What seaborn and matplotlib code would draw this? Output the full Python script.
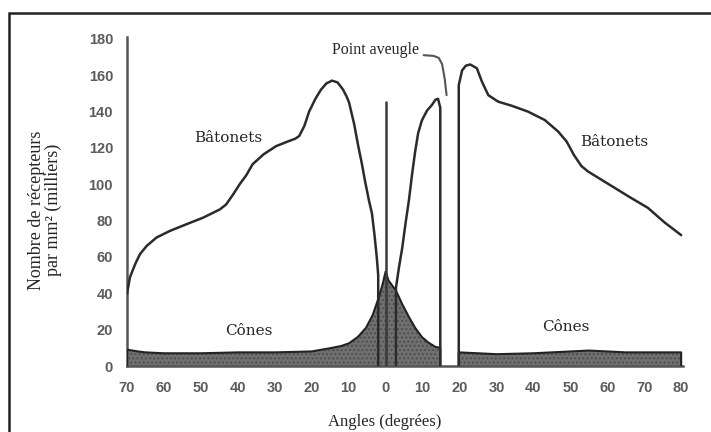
import numpy as np
import pandas as pd
import matplotlib
matplotlib.use("Agg")
import matplotlib.pyplot as plt
import matplotlib.patches as mpatches
import seaborn as sns

# Rods (bâtonets), temporal side negative, nasal side positive (degrees)
rods_left_x = [-70, -69.2, -67.8, -66.5, -64.7, -62, -58.4, -53.9, -49.4, -44.9, -43.2,
               -41.3, -39.5, -37.7, -36, -33, -29.6, -26.5, -24.5, -23.4, -22, -20.7,
               -19, -17.5, -16, -14.5, -13, -11.5, -10.5, -9.9, -8.5, -7.5, -6.4, -5.5,
               -4.5, -3.7, -3, -2.4, -2, -2]
rods_left_y = [39.7, 48.8, 56, 61.5, 66, 70.7, 74.3, 78, 81.6, 86.1, 88.8,
               94.3, 100, 105, 111, 116.5, 121, 123.5, 125, 126.5, 132, 140,
               147, 152, 155.5, 157, 156, 152, 148, 145, 133, 122, 111, 101,
               91, 84, 72, 60, 50, 0]

rods_mid_x = [2.8, 2.8, 3.6, 4.5, 5.5, 6.3, 7.2, 8, 8.8, 9.8, 11.2, 12.5, 13.5, 14.2,
              14.8, 14.8]
rods_mid_y = [0, 43, 54, 65, 80, 91, 106, 118, 128, 135, 140.5, 143.5, 146.5, 147,
              142, 0]

rods_right_x = [19.8, 19.8, 20.7, 21.7, 22.9, 24.7, 26.1, 27.8, 30.5, 34.1, 38.6, 43.1,
                46.7, 49, 51, 53, 54.8, 58, 62, 66, 71, 75.5, 80]
rods_right_y = [0, 154.5, 162.6, 165.2, 165.9, 163.8, 156.3, 149, 145.4, 143.2, 139.9,
                135.3, 129, 123.5, 116, 110, 107, 103, 98, 93, 87, 79, 72]

# Cones
cones_left_x = [-70, -67, -65, -60, -50, -40, -30, -20, -15, -12, -9.9, -7.5, -5.3,
                -3.5, -1.8, -0.8, 0, 0.8, 2.8, 4.5, 6.3, 8, 9.8, 11.5, 13.5, 14.8]
cones_left_y = [9, 8, 7.5, 7, 7, 7.5, 7.5, 8, 9.8, 11, 12.5, 16, 21,
                28, 38, 45, 52, 47, 41.5, 34, 27, 21, 16, 13, 10.5, 10]

cones_right_x = [19.8, 25, 30, 40, 50, 55, 60, 65, 70, 80]
cones_right_y = [7.5, 7, 6.5, 7, 8, 8.5, 8, 7.5, 7.5, 7.5]

fovea_x = 0
fovea_top = 145

pointer_x = [10.3, 13.0, 14.4, 15.3, 16.0, 16.5]
pointer_y = [171, 170.6, 169.5, 166, 158, 149]

x_ticks = list(range(-70, 81, 10))
y_ticks = list(range(0, 181, 20))

sns.set_style("white")

fig = plt.figure(figsize=(7.11, 4.32), dpi=100)
ax = fig.add_axes([127 / 711, 66 / 432, (683 - 127) / 711, (366 - 37) / 432])

shade = "#707070"
for cx, cy in [(cones_left_x, cones_left_y), (cones_right_x, cones_right_y)]:
    ax.fill_between(cx, 0, cy, facecolor=shade, edgecolor="#4f4f4f",
                    hatch="....", linewidth=0, zorder=1)
    xs = [cx[0]] + cx + [cx[-1]]
    ys = [0] + cy + [0]
    df = pd.DataFrame({"x": xs, "y": ys})
    sns.lineplot(data=df, x="x", y="y", ax=ax, sort=False, estimator=None,
                 color="#222222", linewidth=1.5, zorder=3)

for rx, ry in [(rods_left_x, rods_left_y), (rods_mid_x, rods_mid_y),
               (rods_right_x, rods_right_y)]:
    df = pd.DataFrame({"x": rx, "y": ry})
    sns.lineplot(data=df, x="x", y="y", ax=ax, sort=False, estimator=None,
                 color="#2b2b2b", linewidth=1.8, zorder=4)
for line in ax.get_lines():
    line.set_solid_joinstyle("round")
    line.set_solid_capstyle("round")

ax.plot([fovea_x, fovea_x], [0, fovea_top], color="#3a3a3a", lw=1.8, zorder=4)
ax.plot(pointer_x, pointer_y, color="#555555", lw=1.5, zorder=4,
        solid_joinstyle="round")

ax.set_xlim(-70, 80.5)
ax.set_ylim(0, 181)
ax.set_xticks(x_ticks)
ax.set_xticklabels([str(abs(t)) for t in x_ticks])
ax.set_yticks(y_ticks)
ax.set_xlabel("")
ax.set_ylabel("")

for s in ["top", "right"]:
    ax.spines[s].set_visible(False)
for s in ["left", "bottom"]:
    ax.spines[s].set_color("#555555")
    ax.spines[s].set_linewidth(1.8)
ax.tick_params(axis="both", direction="out", length=6, width=1.5, color="#555555",
               labelcolor="#5c5c5c", labelsize=10.5)
ax.tick_params(axis="x", pad=5)
ax.tick_params(axis="y", pad=4)
for lab in ax.get_xticklabels() + ax.get_yticklabels():
    lab.set_family("Liberation Sans")
    lab.set_fontweight("bold")

serif = "Liberation Serif"
lab_kw = dict(family="DejaVu Serif", fontsize=11, ha="center", va="center", zorder=5)
ax.text(-42.5, 125.7, "Bâtonets", **lab_kw)
ax.text(61.8, 123, "Bâtonets", **lab_kw)
ax.text(-37.1, 19.1, "Cônes", **lab_kw)
ax.text(48.9, 21.3, "Cônes", **lab_kw)
ax.text(9, 173.8, "Point aveugle", family=serif, fontsize=11.5, ha="right", va="center")

fig.text(45 / 711, 1 - 210 / 432, "Nombre de récepteurs\npar mm² (milliers)",
         family=serif, fontsize=13, rotation=90, ha="center", va="center",
         multialignment="center", linespacing=1.05)
fig.text(385 / 711, 1 - 422 / 432, "Angles (degrées)", family=serif, fontsize=12,
         ha="center", va="center")

fig.patches.append(mpatches.Rectangle((9 / 711, -0.2), 1.2, 1.2 - 13 / 432,
                                      transform=fig.transFigure, fill=False,
                                      lw=1.8, ec="#222222"))

fig.savefig("out.png", dpi=100)
